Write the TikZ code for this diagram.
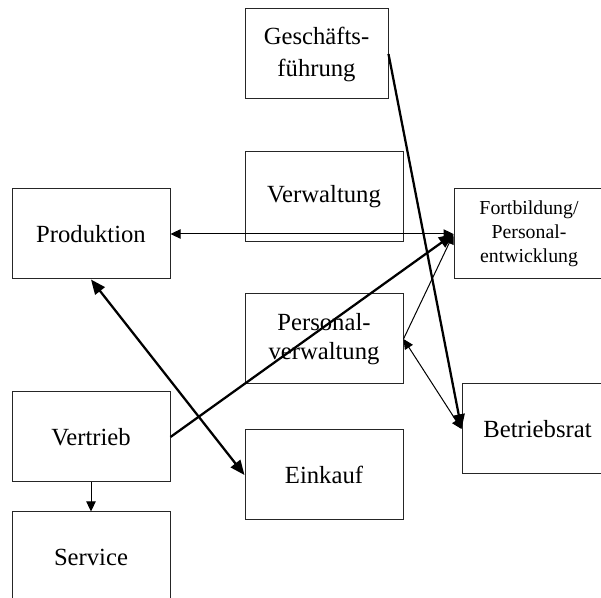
\documentclass[tikz,border=0pt]{standalone}
\usepackage{fontspec}
\setmainfont{Liberation Serif}
\usetikzlibrary{arrows.meta}
\begin{document}
\begin{tikzpicture}[x=0.75pt,y=-0.75pt,
  box/.style={draw=black!85,line width=0.75pt,minimum height=67.5pt,inner sep=0pt,align=center,
    font=\fontsize{18.5}{23}\selectfont},
  thinline/.style={line width=0.75pt},
  thickline/.style={line width=1.7pt},
  smalltip/.tip={Triangle[length=7.5pt,width=7pt]},
  bigtip/.tip={Triangle[length=11pt,width=9pt]}]
\useasboundingbox (0,0) rectangle (601,598);
\clip (0,0) rectangle (601,598);
\fill[white] (0,0) rectangle (601,598);
\node[box,minimum width=107.25pt,font=\fontsize{18.5}{24}\selectfont] (gf) at (316.5,54) {Geschäfts-\\führung};
\node[box,minimum width=118.5pt] (vw) at (324,197) {Verwaltung};
\node[box,minimum width=118.5pt] (pr) at (91,234) {Produktion};
\node[box,minimum width=118.5pt,font=\fontsize{18.5}{22}\selectfont] (pv) at (324,339) {Personal-\\verwaltung};
\node[box,minimum width=118.5pt] (ek) at (324,475) {Einkauf};
\node[box,minimum width=118.5pt] (vt) at (91,437) {Vertrieb};
\node[box,minimum width=118.5pt] (sv) at (91,557) {Service};
\node[box,minimum width=112.5pt,font=\fontsize{14.85}{18}\selectfont] (fb) at (529,234) {Fortbildung/\\Personal-\\entwicklung};
\node[box,minimum width=113.25pt] (br) at (537.5,429) {Betriebsrat};
\draw[thickline,-bigtip] (gf.east) -- (br.west);
\draw[thinline,smalltip-smalltip] (pr.east) -- (fb.west);
\draw[thickline,-bigtip] (vt.east) -- (fb.west);
\draw[thickline,bigtip-bigtip] (pr.south) -- (ek.west);
\draw[thinline,-smalltip] (pv.east) -- (fb.west);
\draw[thinline,smalltip-smalltip] (pv.east) -- (br.west);
\draw[thinline,-smalltip] (vt.south) -- (sv.north);
\end{tikzpicture}
\end{document}
